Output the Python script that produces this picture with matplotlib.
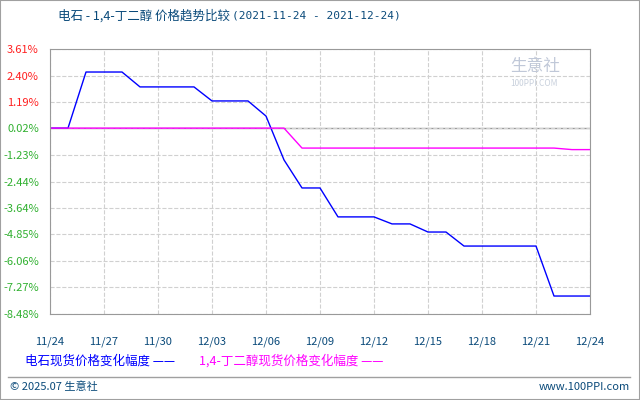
import matplotlib
matplotlib.use("Agg")
import matplotlib.pyplot as plt
from matplotlib.patches import Rectangle
from matplotlib.lines import Line2D

plt.rcParams["font.family"] = ["Noto Sans CJK SC", "DejaVu Sans"]

days = list(range(31))
date_labels = ["11/24", "11/27", "11/30", "12/03", "12/06", "12/09",
               "12/12", "12/15", "12/18", "12/21", "12/24"]
carbide = [0, 0, 2.56, 2.56, 2.56, 1.88, 1.88, 1.88, 1.88, 1.24, 1.24, 1.24,
           0.55, -1.45, -2.73, -2.73, -4.05, -4.05, -4.05, -4.37, -4.37,
           -4.74, -4.74, -5.38, -5.38, -5.38, -5.38, -5.38, -7.66, -7.66, -7.66]
bdo = [0] * 14 + [-0.91] * 15 + [-0.98, -0.98]
yticks = [3.61, 2.40, 1.19, 0.02, -1.23, -2.44, -3.64, -4.85, -6.06, -7.27, -8.48]

W, H = 640, 400
fig = plt.figure(figsize=(6.4, 4.0), dpi=100)
fig.patches.append(Rectangle((0, 0), 1, 1, transform=fig.transFigure, fill=False,
                             edgecolor="#a0a0a0", linewidth=1.5))
ax = fig.add_axes([50 / W, 86 / H, 540 / W, 265 / H])

ax.plot(days, carbide, color="#0000ff", linewidth=1)
ax.plot(days, bdo, color="#ff00ff", linewidth=1)
ax.axhline(0.02, color="#999999", linewidth=1, zorder=1)

ax.set_xlim(0, 30)
ax.set_ylim(-8.48, 3.61)
ax.set_xticks(range(0, 31, 3))
ax.set_xticklabels(date_labels, color="#0a4a7a", fontsize=8)
ax.set_yticks(yticks)
ax.set_yticklabels([f"{v:.2f}%" for v in yticks], fontsize=8)
for lbl, v in zip(ax.get_yticklabels(), yticks):
    lbl.set_color("#ff2020" if v > 0.5 else "#30b030")
ax.tick_params(axis="y", length=0, pad=8)
ax.tick_params(axis="x", length=0, pad=16)
ax.grid(True, color="#d0d0d0", linestyle="--", linewidth=0.8)
for s in ax.spines.values():
    s.set_color("#999999")

fig.text(58 / W, 1 - 16 / H, "电石 - 1,4-丁二醇 价格趋势比较", color="#0a4a7a", fontsize=9, va="center")
fig.text(232 / W, 1 - 16 / H, "(2021-11-24 - 2021-12-24)", color="#0a4a7a", fontsize=8,
         va="center", family="DejaVu Sans Mono")
fig.text(510 / W, 1 - 66 / H, "生意社", color="#c0c8d8", fontsize=12, va="center")
fig.text(510 / W, 1 - 84 / H, "100PPI.COM", color="#c8d0dc", fontsize=6, va="center")

fig.text(25 / W, 1 - 361 / H, "电石现货价格变化幅度 ——", color="#0000ff", fontsize=9, va="center")
fig.text(199 / W, 1 - 361 / H, "1,4-丁二醇现货价格变化幅度 ——", color="#ff00ff", fontsize=9, va="center")
fig.lines.append(Line2D([8 / W, 630 / W], [1 - 377 / H] * 2, transform=fig.transFigure,
                        color="#a0a0a0", linewidth=1))
fig.text(10 / W, 1 - 387 / H, "© 2025.07 生意社", color="#0a4a7a", fontsize=8, va="center")
fig.text(630 / W, 1 - 387 / H, "www.100PPI.com", color="#0a4a7a", fontsize=8, va="center", ha="right")

fig.savefig("out.png", dpi=100)
